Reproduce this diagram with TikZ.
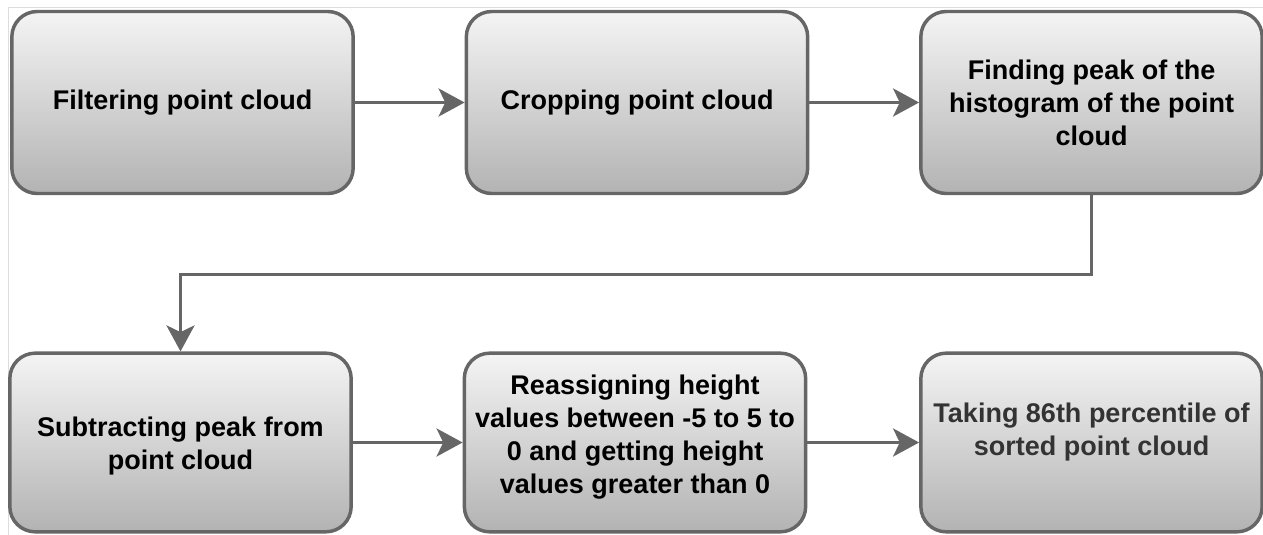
\documentclass[tikz,border=0pt]{standalone}
\usepackage{fontspec}
\setmainfont{Liberation Sans}
\usetikzlibrary{arrows.meta}
\definecolor{edge}{HTML}{666666}
\definecolor{framegray}{HTML}{DDDDDD}
\definecolor{topgray}{HTML}{F4F4F4}
\definecolor{botgray}{HTML}{B3B3B3}
\definecolor{softtext}{HTML}{333333}
\begin{document}
\begin{tikzpicture}[x=0.75pt,y=-0.75pt,
  box/.style={draw=edge, line width=2.6pt, rounded corners=19pt,
    top color=topgray, bottom color=botgray,
    minimum width=256pt, minimum height=136.5pt, inner sep=0pt},
  lowbox/.style={box, minimum height=134pt},
  label/.style={align=center, inner sep=0pt,
    font=\fontsize{20.25}{24.75}\selectfont\bfseries},
  flow/.style={draw=edge, line width=2.6pt,
    -{Stealth[length=19.5pt,width=21pt,inset=5pt]}}]
\useasboundingbox (0,0) rectangle (1263,535);
% faint frame
\draw[framegray, line width=0.75pt] (8,540) -- (8,8) -- (1270,8);
% boxes
\node[box] (b1) at (182.5,102.5) {};
\node[box] (b2) at (637,102.5) {};
\node[box] (b3) at (1091.5,102.5) {};
\node[lowbox] (b4) at (180.5,442.5) {};
\node[lowbox] (b5) at (635,442.5) {};
\node[lowbox] (b6) at (1091.5,442.5) {};
% texts
\node[label] (t1) at (182.5,103) {Filtering point cloud};
\node[label] (t2) at (637,103) {Cropping point cloud};
\node[label] (t3) at (1091.5,103) {Finding peak of the\\histogram of the point\\cloud};
\node[label] (t4) at (180.5,446) {Subtracting peak from\\point cloud};
\node[label] (t5) at (635,437) {Reassigning height\\values between -5 to 5 to\\0 and getting height\\values greater than 0};
\node[label, text=softtext] (t6) at (1091.5,432) {Taking 86th percentile of\\sorted point cloud};
% connectors
\draw[flow] (b1.east) -- (b2.west);
\draw[flow] (b2.east) -- (b3.west);
\draw[flow] (b3.south) -- ++(0,79) -| (b4.north);
\draw[flow] (b4.east) -- (b5.west);
\draw[flow] (b5.east) -- (b6.west);
\end{tikzpicture}
\end{document}
